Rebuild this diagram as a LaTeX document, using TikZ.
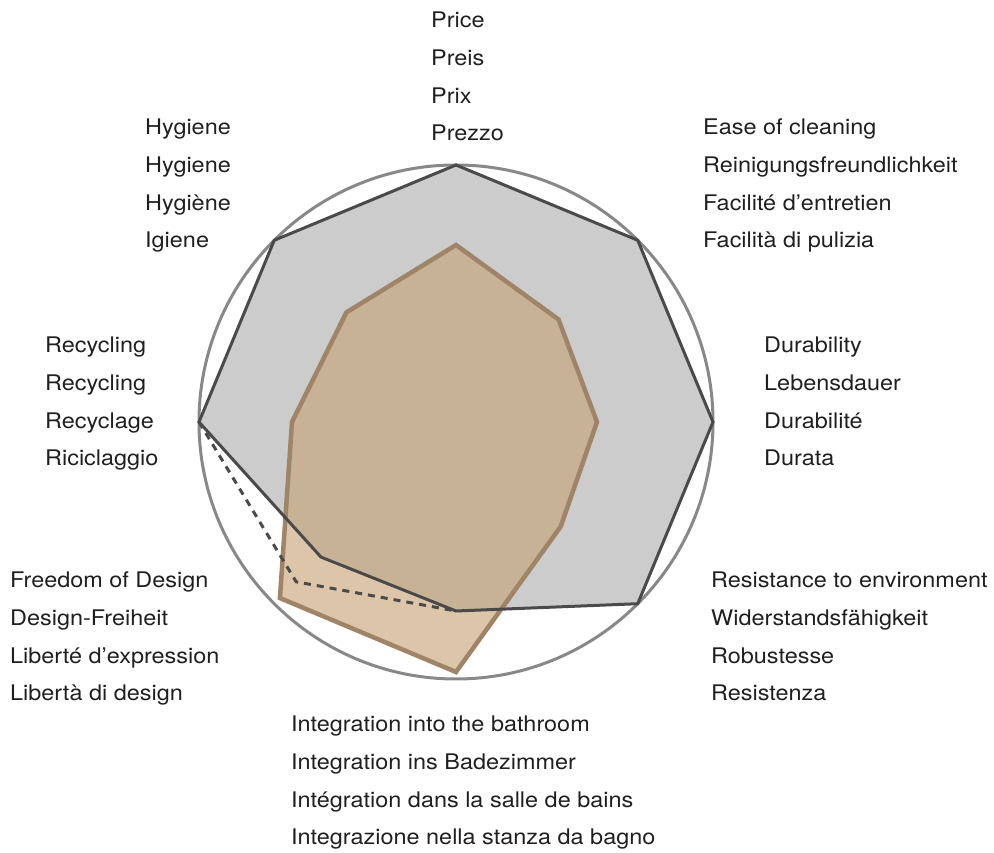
\documentclass[tikz,border=0pt]{standalone}
\usepackage{fontspec}
\setmainfont[FakeStretch=1.09]{TeX Gyre Heros}
\usepackage{xcolor}
\usepackage{tikz}
\usetikzlibrary{positioning}

\definecolor{netzgrau}{HTML}{CCCCCC}
\definecolor{linie}{HTML}{4A4A4A}
\definecolor{kreis}{HTML}{888888}
\definecolor{braun}{RGB}{199,163,117}
\definecolor{braunrand}{HTML}{A08468}

\tikzset{
  achse/.style={anchor=base west, align=left, inner sep=0pt, text=black!88,
    font=\fontsize{21.5}{37.7}\selectfont},
  netz/.style={linie, line width=3pt, line join=miter}
}

\begin{document}
\begin{tikzpicture}[x=1pt, y=1pt]
        \useasboundingbox (-456,-431) rectangle (538,422);

        % Vergleich: Flaeche
        \fill[netzgrau] (90:257) -- (45:257) -- (0:257) -- (-45:257) -- (-90:189)
            -- (-135:191) -- (180:257) -- (135:257) -- cycle;

        % Produkt
        \filldraw[fill=braun, fill opacity=0.63, draw=braunrand, line width=4.5pt]
            (90:177) -- (45:145) -- (0:141) -- (-45:148) -- (-90:250)
            -- (-135:249) -- (180:164) -- (135:155) -- cycle;

        % Kreis und Kontur
        \draw[kreis, line width=3pt] (0,0) circle (257);
        \draw[netz] (90:257) -- (45:257) -- (0:257) -- (-45:257) -- (-90:189)
            -- (-135:191) -- (180:257) -- (135:257) -- cycle;
        \draw[netz, dash pattern=on 7pt off 6pt] (180:257) -- (-135:226) -- (-90:189);

        % Beschriftungen (Anker: letzte Zeile)
        \node[achse] (preis) at (-25,281) {Price\\Preis\\Prix\\Prezzo};
        \node[achse] (reinigung) at (247,174) {Ease of cleaning\\Reinigungsfreundlichkeit\\Facilité d’entretien\\Facilità di pulizia};
        \node[achse] (dauer) at (308,-44) {Durability\\Lebensdauer\\Durabilité\\Durata};
        \node[achse] (resistenz) at (255,-279) {Resistance to environment\\Widerstandsfähigkeit\\Robustesse\\Resistenza};
        \node[achse] (integration) at (-165,-423) {Integration into the bathroom\\Integration ins Badezimmer\\Intégration dans la salle de bains\\Integrazione nella stanza da bagno};
        \node[achse] (freiheit) at (-446,-279) {Freedom of Design\\Design-Freiheit\\Liberté d’expression\\Libertà di design};
        \node[achse] (recycling) at (-411,-44) {Recycling\\Recycling\\Recyclage\\Riciclaggio};
        \node[achse] (hygiene) at (-311,174) {Hygiene\\Hygiene\\Hygiène\\Igiene};
\end{tikzpicture}
\end{document}
